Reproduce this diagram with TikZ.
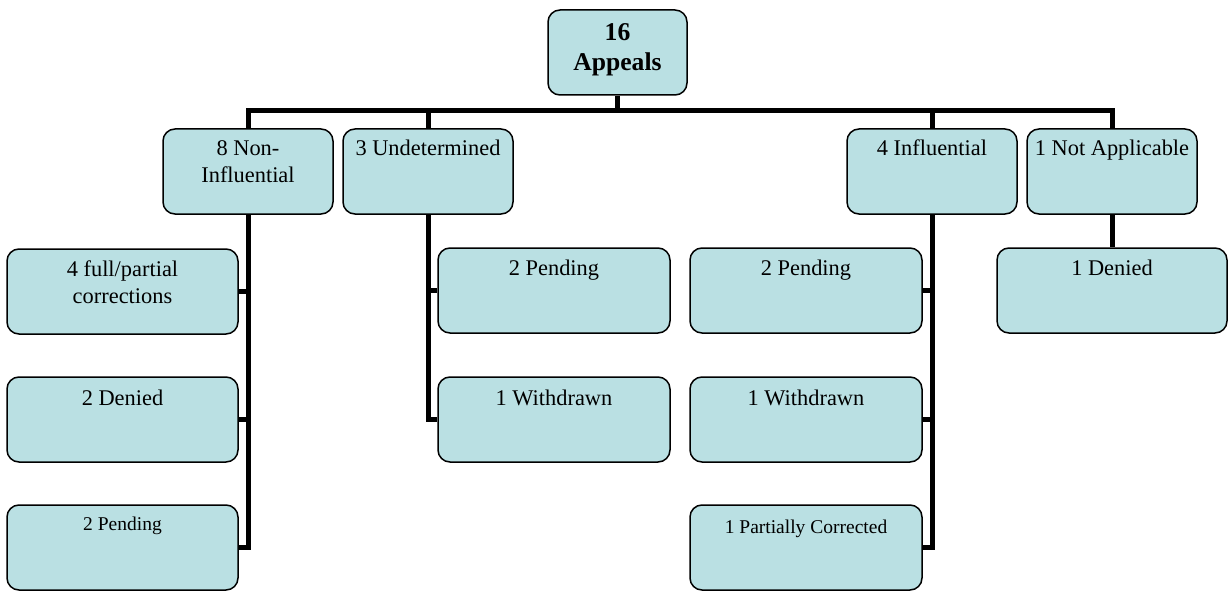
\documentclass[tikz,border=0pt]{standalone}
\usepackage{fontspec}
\setmainfont{Liberation Serif}
\definecolor{boxfill}{RGB}{186,224,227}
\newcommand{\bxt}[4]{\parbox[c][#2pt][t]{#1pt}{\centering\rule{0pt}{#3pt}#4\par}}
\tikzset{
  box/.style={draw=black, fill=boxfill, rounded corners=12pt, line width=1.5pt, inner sep=0pt},
  big/.style={font=\fontsize{22.4}{27}\selectfont},
  small/.style={font=\fontsize{19.5}{24}\selectfont},
  head/.style={font=\fontsize{25.6}{30}\selectfont\bfseries},
  conn/.style={draw=black, line width=5pt}
}
\begin{document}
\begin{tikzpicture}[x=1pt,y=-1pt]
\useasboundingbox (0,0) rectangle (1228,591);
% top
\node[box,head] (top) at (617.5,52.5) {\bxt{139}{85}{31}{16\\Appeals}};
% second row
\node[box,big] (ni)  at (248,171.5)  {\bxt{170}{85}{26}{8 Non-\\Influential}};
\node[box,big] (und) at (428,171.5)  {\bxt{170}{85}{26}{3 Undetermined}};
\node[box,big] (inf) at (932,171.5)  {\bxt{170}{85}{26}{4 Influential}};
\node[box,big] (na)  at (1112,171.5) {\bxt{170}{85}{26}{1 Not Applicable}};
% non-influential children
\node[box,big]   (ni1) at (122.5,291.5) {\bxt{231}{85}{27}{4 full/partial\\corrections}};
\node[box,big]   (ni2) at (122.5,419.5) {\bxt{231}{85}{28}{2 Denied}};
\node[box,small] (ni3) at (122.5,547.5) {\bxt{231}{85}{25}{2 Pending}};
% undetermined children
\node[box,big] (un1) at (554,290.5) {\bxt{232}{85}{27}{2 Pending}};
\node[box,big] (un2) at (554,419.5) {\bxt{232}{85}{28}{1 Withdrawn}};
% influential children
\node[box,big]   (in1) at (806,290.5) {\bxt{232}{85}{27}{2 Pending}};
\node[box,big]   (in2) at (806,419.5) {\bxt{232}{85}{28}{1 Withdrawn}};
\node[box,small] (in3) at (806,547.5) {\bxt{232}{85}{28}{1 Partially Corrected}};
% not applicable child
\node[box,big] (na1) at (1112,290.5) {\bxt{230}{85}{27}{1 Denied}};
% connectors
\coordinate (bar) at (617.5,110.5);
\draw[conn] (top.south) -- (bar);
\draw[conn] (ni.north) |- (bar);
\draw[conn] (und.north) |- (bar);
\draw[conn] (inf.north) |- (bar);
\draw[conn] (na.north) |- (bar);
\draw[conn] (ni.south) |- (ni1.east);
\draw[conn] (ni.south) |- (ni2.east);
\draw[conn] (ni.south) |- (ni3.east);
\draw[conn] (und.south) |- (un1.west);
\draw[conn] (und.south) |- (un2.west);
\draw[conn] (inf.south) |- (in1.east);
\draw[conn] (inf.south) |- (in2.east);
\draw[conn] (inf.south) |- (in3.east);
\draw[conn] (na.south) -- (na1.north);
\end{tikzpicture}
\end{document}
